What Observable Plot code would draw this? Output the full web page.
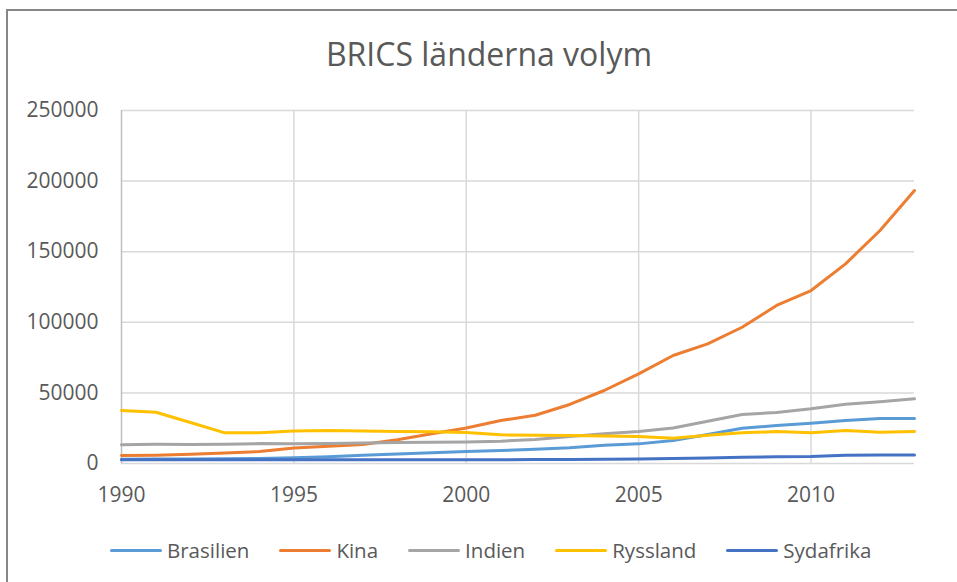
<!DOCTYPE html>
<html>
<head>
<meta charset="utf-8">
<script src="https://cdn.jsdelivr.net/npm/d3@7"></script>
<script src="https://cdn.jsdelivr.net/npm/@observablehq/plot@0.6"></script>
<style>
  html, body { margin: 0; padding: 0; background: #fff; }
  body { width: 957px; height: 582px; position: relative; overflow: hidden; font-family: "Open Sans", sans-serif; }
  #frame { position: absolute; left: 6px; top: 9px; width: 1000px; height: 700px; border: 2px solid #878787; box-sizing: border-box; }
  #title { position: absolute; left: 0; width: 978px; top: 38px; text-align: center; font-size: 32px; color: #595959; line-height: 1; }
  #chart { position: absolute; left: 0; top: 0; }
  #legend { position: absolute; left: 110px; top: 536px; display: flex; gap: 30px; align-items: center; font-size: 20.5px; color: #595959; }
  .item { display: flex; align-items: center; gap: 5px; }
  .sw { width: 52px; height: 3px; border-radius: 2px; }
</style>
</head>
<body>
<div id="frame"></div>
<div id="title">BRICS länderna volym</div>
<div id="chart"></div>
<div id="legend"></div>
<script>
const years = [1990,1991,1992,1993,1994,1995,1996,1997,1998,1999,2000,2001,2002,2003,2004,2005,2006,2007,2008,2009,2010,2011,2012,2013];
const seriesNames = ["Brasilien", "Kina", "Indien", "Ryssland", "Sydafrika"];
const seriesColors = ["#5B9BD5", "#ED7D31", "#A5A5A5", "#FFC000", "#4472C4"];
const brasilien = [3000,3100,3200,3400,3600,4000,4800,5800,6800,7700,8500,9200,10100,11100,13000,13900,16300,20500,25000,26900,28500,30400,31900,31900];
const kina = [5700,5900,6600,7500,8500,10900,12300,13500,16800,21000,25200,30400,34200,41800,51700,63500,76500,84700,96500,111900,122500,141400,165000,193300];
const indien = [13200,13600,13500,13700,14100,13900,14200,14500,14800,15000,15300,15800,17000,19100,21000,22600,25200,29900,34700,36100,38700,42000,43700,45800];
const ryssland = [37500,36300,29000,21700,21700,23100,23400,23100,22700,22500,21900,20300,20000,19900,19500,19100,17900,20000,21700,22600,21700,23400,22200,22600];
const sydafrika = [2600,2600,2600,2600,2600,2700,2700,2700,2700,2700,2700,2700,2800,2800,3000,3100,3500,3900,4400,4700,4900,5800,6100,6100];
const yTicks = [0, 50000, 100000, 150000, 200000, 250000];
const xTicks = [1990, 1995, 2000, 2005, 2010];

const seriesValues = [brasilien, kina, indien, ryssland, sydafrika];
const data = seriesNames.flatMap((name, i) => years.map((year, j) => ({series: name, year, value: seriesValues[i][j]})));

const chart = Plot.plot({
  width: 957,
  height: 582,
  marginLeft: 121,
  marginRight: 43,
  marginTop: 110,
  marginBottom: 119,
  style: {fontFamily: "Open Sans, sans-serif", fontSize: "21px", color: "#595959", background: "transparent", overflow: "visible"},
  x: {domain: [1990, 2013]},
  y: {domain: [0, 250000]},
  color: {domain: seriesNames, range: seriesColors},
  marks: [
    Plot.ruleY(yTicks, {y: d => d, stroke: "#d9d9d9", strokeWidth: 1.5}),
    Plot.ruleX(xTicks.slice(1), {x: d => d, stroke: "#d9d9d9", strokeWidth: 1.5}),
    Plot.ruleX([1990], {x: d => d, stroke: "#bfbfbf", strokeWidth: 1.5}),
    Plot.line(data, {x: "year", y: "value", z: "series", stroke: "series", strokeWidth: 3, strokeLinecap: "round", strokeLinejoin: "round", curve: "linear"}),
    Plot.axisY(yTicks, {tickSize: 0, tickPadding: 23, tickFormat: d => String(d), fill: "#595959", label: null}),
    Plot.axisX(xTicks, {tickSize: 0, tickPadding: 24, tickFormat: d => String(d), fill: "#595959", label: null})
  ]
});
document.getElementById("chart").appendChild(chart);

const legend = document.getElementById("legend");
seriesNames.forEach((name, i) => {
  const item = document.createElement("div");
  item.className = "item";
  const sw = document.createElement("div");
  sw.className = "sw";
  sw.style.background = seriesColors[i];
  const label = document.createElement("span");
  label.textContent = name;
  item.appendChild(sw);
  item.appendChild(label);
  legend.appendChild(item);
});
</script>
</body>
</html>
